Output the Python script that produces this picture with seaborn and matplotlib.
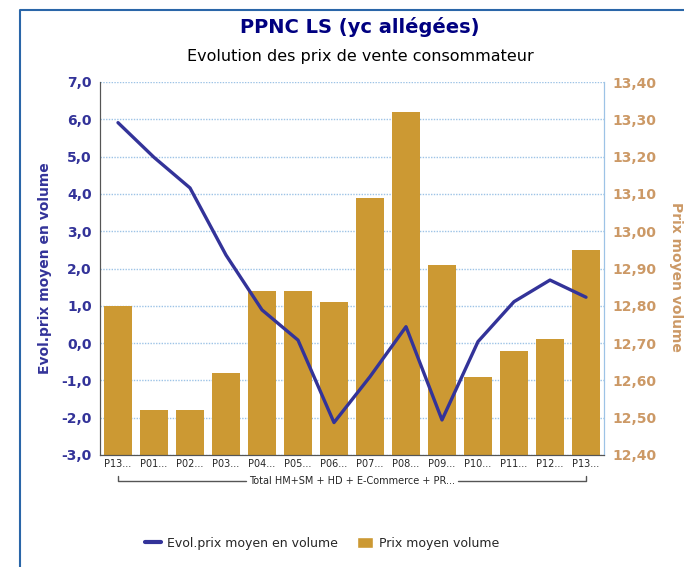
import numpy as np
import pandas as pd
import seaborn as sns
import matplotlib.pyplot as plt
from matplotlib.ticker import FuncFormatter, MultipleLocator
from matplotlib.lines import Line2D
from matplotlib.patches import Patch

# Données
periodes = ["P13...", "P01...", "P02...", "P03...", "P04...", "P05...", "P06...",
            "P07...", "P08...", "P09...", "P10...", "P11...", "P12...", "P13..."]
evol_prix = [5.91, 4.98, 4.16, 2.36, 0.89, 0.08, -2.13, -0.90, 0.44, -2.06, 0.04, 1.11, 1.69, 1.23]
prix_moyen = [12.80, 12.52, 12.52, 12.62, 12.84, 12.84, 12.81, 13.09, 13.32, 12.91, 12.61, 12.68, 12.71, 12.95]
groupe = "Total HM+SM + HD + E-Commerce + PR..."

couleur_ligne = "#333399"
couleur_barre = "#CC9933"
couleur_droite = "#CC9966"
couleur_grille = "#9dc3e6"

df = pd.DataFrame({"pos": np.arange(len(periodes)), "evol": evol_prix, "prix": prix_moyen})

sns.set_style("white")
plt.rcParams["font.family"] = ["DejaVu Sans"]

fig = plt.figure(figsize=(6.84, 5.67), dpi=100)
ax = fig.add_axes([100 / 684, 1 - 455 / 567, 504 / 684, 373 / 567])
ax2 = ax.twinx()

# Barres (axe droit)
sns.barplot(data=df, x="pos", y="prix", ax=ax2, color=couleur_barre, width=0.8,
            saturation=1, linewidth=0, zorder=2)
ax2.set_ylim(12.40, 13.40)
ax2.yaxis.set_major_locator(MultipleLocator(0.1))
ax2.yaxis.set_major_formatter(FuncFormatter(lambda v, p: f"{v:.2f}".replace(".", ",")))
ax2.grid(axis="y", color=couleur_grille, linestyle=(0, (1, 1)), linewidth=1)
ax2.set_axisbelow(True)
ax2.set_ylabel("")
ax2.set_xlabel("")

# Ligne (axe gauche)
ax.set_zorder(ax2.get_zorder() + 1)
ax.patch.set_visible(False)
sns.lineplot(data=df, x="pos", y="evol", ax=ax, color=couleur_ligne, linewidth=2.4)
ax.set_ylim(-3, 7)
ax.set_xlim(-0.5, len(periodes) - 0.5)
ax.yaxis.set_major_locator(MultipleLocator(1))
ax.yaxis.set_major_formatter(FuncFormatter(lambda v, p: f"{v:.1f}".replace(".", ",")))
ax.set_xticks(np.arange(len(periodes)))
ax.set_xticklabels(periodes, fontsize=7)
ax.set_xlabel("")
ax.set_ylabel("Evol.prix moyen en volume", fontsize=10, fontweight="bold", color=couleur_ligne, labelpad=7)

for t in ax.get_yticklabels():
    t.set_fontweight("bold")
    t.set_color(couleur_ligne)
    t.set_fontsize(10)
for t in ax2.get_yticklabels():
    t.set_fontweight("bold")
    t.set_color(couleur_droite)
    t.set_fontsize(10)
ax.tick_params(axis="y", length=0, pad=6)
ax2.tick_params(axis="y", length=0, pad=6)
ax.tick_params(axis="x", length=0, pad=3)
ax2.tick_params(axis="x", length=0, labelbottom=False)

# Axes : bordures
for a in (ax, ax2):
    a.spines["top"].set_visible(False)
    a.spines["left"].set_color("#555555")
    a.spines["bottom"].set_color("#555555")
    a.spines["right"].set_color(couleur_grille)

# Regroupement sous les étiquettes
trans = ax.get_xaxis_transform()
yb = -0.07
ax.plot([0, 0, 3.55], [yb + 0.013, yb, yb], color="#555555", lw=1, transform=trans, clip_on=False)
ax.plot([9.45, 13, 13], [yb, yb, yb + 0.013], color="#555555", lw=1, transform=trans, clip_on=False)
ax.text(6.5, yb, groupe, transform=trans, ha="center", va="center", fontsize=7)

# Titres
fig.text(360 / 684, 1 - 27 / 567, "PPNC LS (yc allégées)", ha="center", va="center",
         fontsize=14, fontweight="bold", color="#000080")
fig.text(360 / 684, 1 - 57 / 567, "Evolution des prix de vente consommateur", ha="center", va="center",
         fontsize=11.5, color="black")
fig.text(676 / 684, 1 - 277 / 567, "Prix moyen volume", ha="center", va="center", rotation=270,
         fontsize=10, fontweight="bold", color=couleur_droite)

# Cadre
fig.add_artist(Line2D([20 / 684, 20 / 684, 1], [0, 1 - 10 / 567, 1 - 10 / 567],
                      color="#2a66a8", lw=1.5))

# Légende
handles = [Line2D([0], [0], color=couleur_ligne, lw=3),
           Patch(facecolor=couleur_barre)]
fig.legend(handles, ["Evol.prix moyen en volume", "Prix moyen volume"], loc="center",
           bbox_to_anchor=(322 / 684, 1 - 543 / 567), ncol=2, frameon=False, fontsize=9,
           handlelength=1.3, handleheight=1.0, columnspacing=1.5, handletextpad=0.5)

fig.savefig("out.png", dpi=100)
